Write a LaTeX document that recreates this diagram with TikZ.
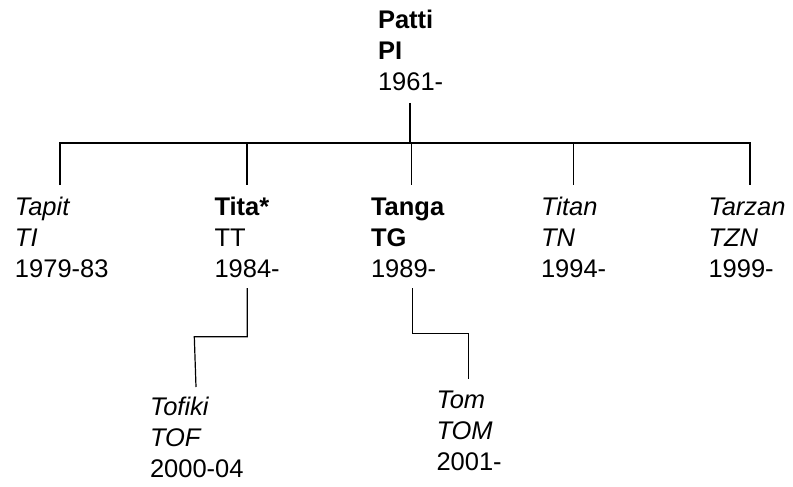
\documentclass[tikz,border=0pt]{standalone}
\usepackage{fontspec}
\setmainfont{Liberation Sans}
\newcommand\threelines[3]{\vtop{\baselineskip=31pt\hbox{#1}\hbox{#2}\hbox{#3}}}
\tikzset{
  person/.style={anchor=base west, inner sep=0pt, outer sep=0pt, font=\fontsize{25.5}{31}\selectfont},
  link/.style={line width=1.2pt, line join=miter},
  stem/.style={line width=2pt}
}
\begin{document}
\begin{tikzpicture}[x=1pt,y=-1pt]
\useasboundingbox (0,0) rectangle (793,487);
% people
\node[person] (patti) at (378,28.3) {\threelines{\textbf{Patti}}{\textbf{PI}}{1961-}};
\node[person] (tapit) at (15,215) {\threelines{\textit{Tapit}}{\textit{TI}}{1979-83}};
\node[person] (tita) at (214.5,215) {\threelines{\textbf{Tita*}}{TT}{1984-}};
\node[person] (tanga) at (371,215) {\threelines{\textbf{Tanga}}{\textbf{TG}}{1989-}};
\node[person] (titan) at (541,215) {\threelines{\textit{Titan}}{\textit{TN}}{1994-}};
\node[person] (tarzan) at (708.5,215) {\threelines{\textit{Tarzan}}{\textit{TZN}}{1999-}};
\node[person] (tofiki) at (150,415.5) {\threelines{\textit{Tofiki}}{\textit{TOF}}{2000-04}};
\node[person] (tom) at (436.5,408) {\threelines{\textit{Tom}}{\textit{TOM}}{2001-}};
% connector points
\coordinate (pattiS) at (410.3,103);
\coordinate (busC) at (410.3,143);
\coordinate (busL) at (60,143);
\coordinate (busR) at (750,143);
\coordinate (tapitT) at (60,185);
\coordinate (titaB) at (247,143);
\coordinate (titaT) at (247,185);
\coordinate (tangaB) at (411.7,143);
\coordinate (tangaT) at (411.7,185);
\coordinate (titanB) at (573.5,143);
\coordinate (titanT) at (573.5,185);
\coordinate (tarzanT) at (750,185);
\coordinate (titaS) at (247.3,288);
\coordinate (titaK) at (247.3,336.7);
\coordinate (tofikiK) at (194.3,336.7);
\coordinate (tofikiT) at (196,387);
\coordinate (tangaS) at (412.3,288);
\coordinate (tangaK) at (412.3,333.3);
\coordinate (tomK) at (468.3,333.3);
\coordinate (tomT) at (468.3,379);
% lines
\draw[stem] (pattiS) -- (busC);
\draw[link] (tapitT) -- (busL) -- (busR) -- (tarzanT);
\draw[link] (titaB) -- (titaT);
\draw[link] (tangaB) -- (tangaT);
\draw[link] (titanB) -- (titanT);
\draw[link] (titaS) -- (titaK) -- (tofikiK) -- (tofikiT);
\draw[link] (tangaS) -- (tangaK) -- (tomK) -- (tomT);
\end{tikzpicture}
\end{document}
